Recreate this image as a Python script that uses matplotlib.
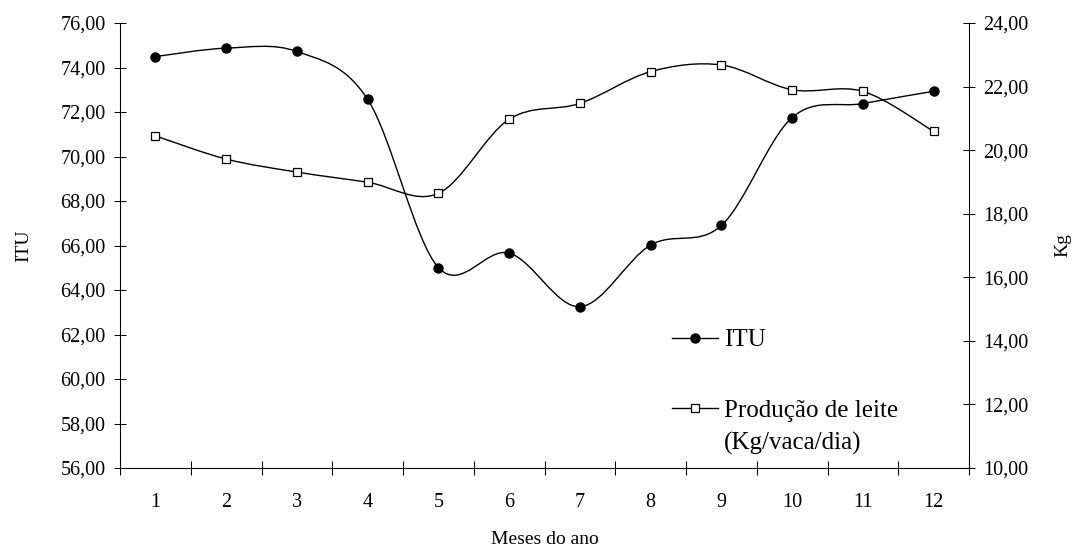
import numpy as np
import matplotlib
matplotlib.use('Agg')
import matplotlib.pyplot as plt
from matplotlib.path import Path
from matplotlib.patches import PathPatch
from matplotlib.lines import Line2D
from matplotlib.ticker import FuncFormatter, FixedLocator

plt.rcParams['font.family'] = ['Liberation Serif', 'DejaVu Serif']

# Dados
meses = np.arange(1, 13)
itu = [74.49, 74.87, 74.72, 72.57, 65.01, 65.66, 63.25, 66.02, 66.90, 71.75, 72.38, 72.93]
leite = [20.45, 19.72, 19.31, 18.99, 18.64, 20.97, 21.47, 22.47, 22.68, 21.90, 21.85, 20.59]


# Curva suavizada (como no Excel): Bezier cúbica passando pelos pontos
def curva_suave(x, y):
    p = np.column_stack([x, y]).astype(float)
    ext = np.vstack([p[0], p, p[-1]])
    verts = [p[0]]
    codes = [Path.MOVETO]
    for i in range(len(p) - 1):
        c1 = ext[i + 1] + (ext[i + 2] - ext[i]) / 6
        c2 = ext[i + 2] - (ext[i + 3] - ext[i + 1]) / 6
        verts += [c1, c2, ext[i + 2]]
        codes += [Path.CURVE4] * 3
    return Path(verts, codes)


fmt = FuncFormatter(lambda v, p: f'{v:.2f}'.replace('.', ','))

fig = plt.figure(figsize=(10.76, 5.47), dpi=100)
ax = fig.add_axes([120 / 1076, 1 - 468 / 547, 849 / 1076, 445 / 547])
ax2 = ax.twinx()

ax.add_patch(PathPatch(curva_suave(meses, itu), fill=False, edgecolor='black', lw=1.0))
ax.plot(meses, itu, linestyle='none', marker='o', ms=6.5, color='black')

ax2.add_patch(PathPatch(curva_suave(meses, leite), fill=False, edgecolor='black', lw=1.0))
ax2.plot(meses, leite, linestyle='none', marker='s', ms=6, mfc='white', mec='black', mew=0.9)

ax.set_xlim(0.5, 12.5)
ax.set_ylim(56, 76)
ax2.set_ylim(10, 24)
ax.set_yticks(np.arange(56, 76.1, 2))
ax2.set_yticks(np.arange(10, 24.1, 2))
ax.yaxis.set_major_formatter(fmt)
ax2.yaxis.set_major_formatter(fmt)

ax.xaxis.set_major_locator(FixedLocator(np.arange(0.5, 12.6, 1)))
ax.xaxis.set_major_formatter(FuncFormatter(lambda v, p: ''))
ax.xaxis.set_minor_locator(FixedLocator(meses))
ax.xaxis.set_minor_formatter(FuncFormatter(lambda v, p: f'{int(round(v))}'))
ax.tick_params(axis='x', which='major', direction='inout', length=9.5, width=0.75)
ax.tick_params(axis='x', which='minor', length=0, pad=18, labelsize=14.5)
ax.tick_params(axis='y', direction='inout', length=9, width=0.75, pad=6, labelsize=14.5)
ax2.tick_params(axis='y', direction='inout', length=9, width=0.75, pad=6, labelsize=14.5)

for a in (ax, ax2):
    a.spines['top'].set_visible(False)
    for s in ('left', 'right', 'bottom'):
        a.spines[s].set_linewidth(0.75)

ax.set_xlabel('Meses do ano', fontsize=14, va='center')
ax.xaxis.set_label_coords(0.5, -0.16)
ax.set_ylabel('ITU', fontsize=14, va='center')
ax.yaxis.set_label_coords(-0.113, 0.5)
ax2.set_ylabel('Kg', fontsize=14, va='center', rotation=90)
ax2.yaxis.set_label_coords(1.1107, 0.5)

h1 = Line2D([], [], color='black', lw=1.0, marker='o', ms=6.5)
h2 = Line2D([], [], color='black', lw=1.0, marker='s', ms=5.5, mfc='white', mec='black', mew=0.9)
leg = ax2.legend([h1, h2], ['ITU', 'Produção de leite'], loc='upper left',
                 bbox_to_anchor=(672 / 1076, 1 - 329 / 547), bbox_transform=fig.transFigure,
                 frameon=False, fontsize=18, handlelength=1.84, handletextpad=0.25,
                 borderpad=0, borderaxespad=0, labelspacing=1.9)
fig.text(724 / 1076, 1 - 443 / 547, '(Kg/vaca/dia)', fontsize=18, va='center', ha='left')

fig.savefig('out.png', dpi=100)
